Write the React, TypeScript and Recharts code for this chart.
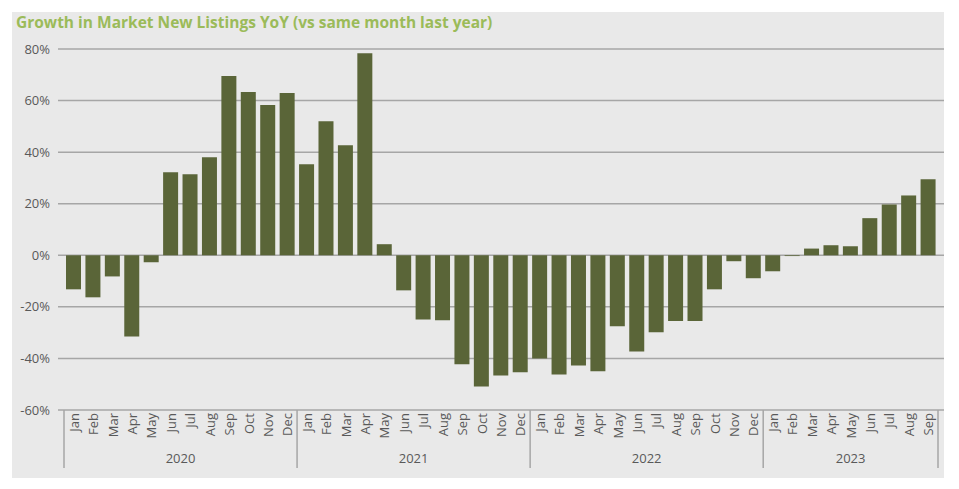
import { BarChart, Bar, XAxis, YAxis, CartesianGrid } from "recharts";

const years = ["2020", "2021", "2022", "2023"];
const monthNames = ["Jan", "Feb", "Mar", "Apr", "May", "Jun", "Jul", "Aug", "Sep", "Oct", "Nov", "Dec"];
const growth2020 = [-13.2, -16.3, -8.2, -31.5, -2.7, 32.2, 31.4, 38.0, 69.5, 63.3, 58.3, 62.9];
const growth2021 = [35.3, 52.0, 42.7, 78.4, 4.3, -13.6, -24.9, -25.2, -42.3, -50.9, -46.6, -45.4];
const growth2022 = [-40.0, -46.2, -42.7, -45.0, -27.5, -37.3, -29.8, -25.5, -25.5, -13.2, -2.3, -8.9];
const growth2023 = [-6.2, -0.3, 2.6, 3.9, 3.5, 14.4, 19.7, 23.2, 29.5];
const yTicks = [-60, -40, -20, 0, 20, 40, 60, 80];

const seriesByYear = [growth2020, growth2021, growth2022, growth2023];

const data = years.flatMap((year, yi) =>
  seriesByYear[yi].map((value, mi) => ({
    key: `${year}-${mi}`,
    year,
    month: monthNames[mi],
    mi,
    count: seriesByYear[yi].length,
    value,
  }))
);

const W = 959;
const H = 489;
const PLOT_LEFT = 58;
const PLOT_RIGHT = 944;
const PAD = 6;
const BAND = (PLOT_RIGHT - PLOT_LEFT - PAD * 2) / data.length;
const TEXT = "#595959";
const FONT = "'Open Sans', 'Noto Sans', sans-serif";

function MonthTick(props: any) {
  const { x, y, payload } = props;
  const row = data[payload.index];
  const ty = y + 3;
  return (
    <text
      x={x}
      y={ty}
      transform={`rotate(-90, ${x}, ${ty})`}
      textAnchor="end"
      dominantBaseline="central"
      fontSize={13}
      fill={TEXT}
      fontFamily={FONT}
    >
      {row ? row.month : ""}
    </text>
  );
}

function YearTick(props: any) {
  const { x, y, payload } = props;
  const i = payload.index;
  const row = data[i];
  if (!row) return null;
  const mid = Math.floor((row.count - 1) / 2);
  const offset = ((row.count - 1) / 2 - mid) * BAND;
  const parts = [];
  if (row.mi === 0) {
    parts.push(<line key="l" x1={x - BAND / 2} x2={x - BAND / 2} y1={y - 45} y2={y + 13} stroke="#a6a6a6" strokeWidth={1.5} />);
  }
  if (i === data.length - 1) {
    parts.push(<line key="r" x1={x + BAND / 2} x2={x + BAND / 2} y1={y - 45} y2={y + 13} stroke="#a6a6a6" strokeWidth={1.5} />);
  }
  if (row.mi === mid) {
    parts.push(
      <text key="t" x={x + offset} y={y + 8} textAnchor="middle" fontSize={13} fill={TEXT} fontFamily={FONT}>
        {row.year}
      </text>
    );
  }
  return <g>{parts}</g>;
}

export default function App() {
  return (
    <div style={{ position: "absolute", left: 0, top: 0, width: W, height: H, background: "#ffffff" }}>
      <div style={{ position: "absolute", left: 12, top: 12, width: 932, height: 466, background: "#e9e9e9" }} />
      <div
        style={{
          position: "absolute",
          left: 16,
          top: 11,
          fontFamily: FONT,
          fontWeight: 700,
          fontSize: 15.5,
          color: "#9bbb59",
          whiteSpace: "nowrap",
        }}
      >
        Growth in Market New Listings YoY (vs same month last year)
      </div>
      <div style={{ position: "absolute", left: 0, top: 0 }}>
        <BarChart
          width={W}
          height={H}
          data={data}
          barSize={15}
          margin={{ top: 49, right: W - PLOT_RIGHT, bottom: 0, left: 12 }}
        >
          <CartesianGrid vertical={false} stroke="#a6a6a6" strokeWidth={1.5} />
          <XAxis
            dataKey="key"
            xAxisId="month"
            interval={0}
            height={45}
            padding={{ left: PAD, right: PAD }}
            tickSize={0}
            tickMargin={0}
            axisLine={false}
            tickLine={false}
            tick={<MonthTick />}
          />
          <XAxis
            dataKey="key"
            xAxisId="year"
            interval={0}
            height={34}
            padding={{ left: PAD, right: PAD }}
            tickSize={0}
            tickMargin={0}
            axisLine={false}
            tickLine={false}
            tick={<YearTick />}
          />
          <YAxis
            width={46}
            domain={[-60, 80]}
            ticks={yTicks}
            interval={0}
            axisLine={false}
            tickLine={false}
            tickFormatter={(v: number) => `${v}%`}
            tick={{ fontSize: 13, fill: TEXT, fontFamily: FONT }}
          />
          <Bar dataKey="value" xAxisId="month" fill="#5a6538" isAnimationActive={false} />
        </BarChart>
      </div>
    </div>
  );
}
